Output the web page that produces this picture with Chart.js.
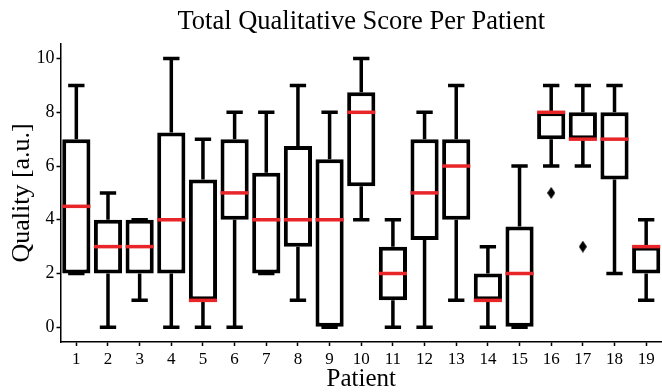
<!DOCTYPE html>
<html><head><meta charset="utf-8">
<script src="https://cdn.jsdelivr.net/npm/chart.js@4/dist/chart.umd.min.js"></script>
<style>html,body{margin:0;padding:0;background:#fff}</style>
</head><body>
<canvas id="c" width="662" height="392"></canvas>
<script>
const patients = ['1','2','3','4','5','6','7','8','9','10','11','12','13','14','15','16','17','18','19'];
const q1 = [2,2,2,2,1,4,2,3,0,5.25,1,3.25,4,1,0,7,7,5.5,2];
const q3 = [7,4,4,7.25,5.5,7,5.75,6.75,6.25,8.75,3,7,7,2,3.75,8,8,8,3];
const medians = [4.5,3,3,4,1,5,4,4,4,8,2,5,6,1,2,8,7,7,3];
const whiskerLow = [2,0,1,0,0,0,2,1,0,4,0,0,1,0,0,6,6,2,1];
const whiskerHigh = [9,5,4,10,7,8,8,9,8,10,4,8,9,3,6,9,9,9,4];
const outlierPatients = ['16','17'];
const outlierValues = [5,3];
const yTicks = [0,2,4,6,8,10];

const FONT = "'Liberation Serif', 'DejaVu Serif', serif";
const MED_COLOR = '#e8262a';

// thin diamond marker
const diamond = document.createElement('canvas');
diamond.width = 8; diamond.height = 12;
(function(){const g = diamond.getContext('2d');g.fillStyle='#000';g.beginPath();g.moveTo(4,0);g.lineTo(8,6);g.lineTo(4,12);g.lineTo(0,6);g.closePath();g.fill();})();

const boxParts = {
  id: 'boxParts',
  beforeDatasetsDraw(chart) {
    const {ctx, scales:{x, y}} = chart;
    const meta = chart.getDatasetMeta(0);
    ctx.save();
    ctx.strokeStyle = '#000';
    ctx.lineWidth = 3.5;
    ctx.lineCap = 'butt';
    patients.forEach((p, i) => {
      const cx = x.getPixelForValue(i);
      const capHalf = meta.data[i].width * 0.29;
      const yl = y.getPixelForValue(whiskerLow[i]);
      const yh = y.getPixelForValue(whiskerHigh[i]);
      const yq1 = y.getPixelForValue(q1[i]);
      const yq3 = y.getPixelForValue(q3[i]);
      ctx.beginPath();
      ctx.moveTo(cx, yq3); ctx.lineTo(cx, yh);
      ctx.moveTo(cx, yq1); ctx.lineTo(cx, yl);
      ctx.moveTo(cx - capHalf, yh); ctx.lineTo(cx + capHalf, yh);
      ctx.moveTo(cx - capHalf, yl); ctx.lineTo(cx + capHalf, yl);
      ctx.stroke();
    });
    ctx.restore();
  },
  afterDatasetsDraw(chart) {
    const {ctx, scales:{x, y}} = chart;
    const meta = chart.getDatasetMeta(0);
    ctx.save();
    ctx.strokeStyle = MED_COLOR;
    ctx.lineWidth = 3.5;
    patients.forEach((p, i) => {
      const cx = x.getPixelForValue(i);
      const half = meta.data[i].width / 2;
      const ym = y.getPixelForValue(medians[i]);
      ctx.beginPath();
      ctx.moveTo(cx - half, ym); ctx.lineTo(cx + half, ym);
      ctx.stroke();
    });
    ctx.restore();
  }
};

const axisGrid = {display:true, drawOnChartArea:false, drawTicks:true, tickLength:4, tickWidth:1.5, tickColor:'#000', offset:false};

new Chart(document.getElementById('c'), {
  type: 'bar',
  data: {
    labels: patients,
    datasets: [
      {
        data: q1.map((v, i) => [v, q3[i]]),
        backgroundColor: '#ffffff',
        borderColor: '#000',
        borderWidth: 4,
        borderSkipped: false,
        inflateAmount: 0,
        barPercentage: 0.89,
        categoryPercentage: 1
      },
      {
        type: 'line',
        data: outlierPatients.map((p, i) => ({x: p, y: outlierValues[i]})),
        showLine: false,
        pointStyle: diamond,
        pointRadius: 5,
        borderColor: '#000',
        backgroundColor: '#000'
      }
    ]
  },
  options: {
    responsive: false,
    devicePixelRatio: 1,
    animation: false,
    layout: {autoPadding: false, padding: {left: 8, right: 0, top: 0, bottom: 0}},
    plugins: {
      legend: {display: false},
      tooltip: {enabled: false},
      title: {
        display: true,
        fullSize: false,
        text: 'Total Qualitative Score Per Patient',
        color: '#000',
        font: {family: FONT, size: 26.5, weight: 'normal', lineHeight: 1.2},
        padding: {top: 6, bottom: 6}
      }
    },
    scales: {
      x: {
        type: 'category',
        offset: true,
        grid: axisGrid,
        border: {display: true, color: '#000', width: 1.5},
        ticks: {color: '#000', font: {family: FONT, size: 17, lineHeight: 1.1}, padding: 4, maxRotation: 0, autoSkip: false},
        title: {display: true, text: 'Patient', color: '#000', font: {family: FONT, size: 25, lineHeight: 1}, padding: {top: 0, bottom: 0}},
        afterFit: s => { s.paddingLeft = 0; s.paddingRight = 0; s.height = 50; }
      },
      y: {
        min: -0.55,
        max: 10.55,
        afterBuildTicks: s => { s.ticks = yTicks.map(v => ({value: v})); },
        grid: axisGrid,
        border: {display: true, color: '#000', width: 1.5},
        ticks: {color: '#000', font: {family: FONT, size: 18}, padding: 2},
        title: {display: true, text: 'Quality [a.u.]', color: '#000', font: {family: FONT, size: 26, lineHeight: 1.1}, padding: {top: 0, bottom: 0}},
        afterFit: s => { s.width = 52.5; }
      }
    }
  },
  plugins: [boxParts]
});
</script>
</body></html>
